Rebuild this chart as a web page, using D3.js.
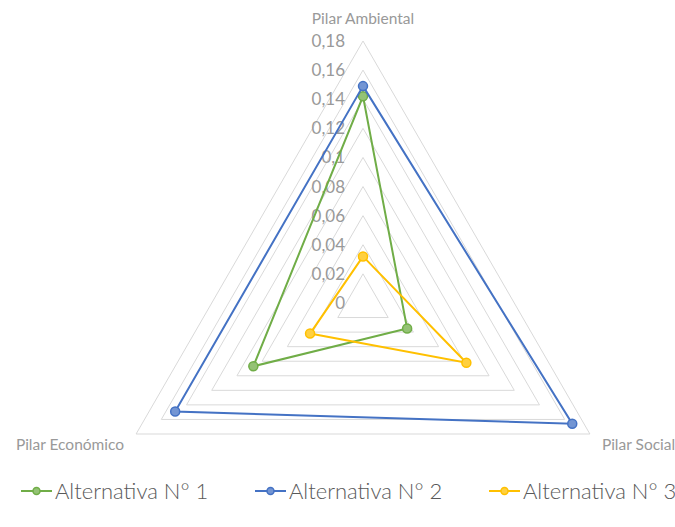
<!DOCTYPE html>
<html>
<head>
<meta charset="utf-8">
<script src="https://cdn.jsdelivr.net/npm/d3@7"></script>
<style>
  body { margin: 0; background: #fff; }
  svg { display: block; font-family: Lato, "Open Sans", sans-serif; }
</style>
</head>
<body>
<div class="chart"></div>
<script>
const width = 675, height = 527;

// categories clockwise from the top
const pillars = ["Pilar Ambiental", "Pilar Social", "Pilar Económico"];
const seriesNames = ["Alternativa N° 1", "Alternativa N° 2", "Alternativa N° 3"];
const alt1 = [0.142, 0.035, 0.087];
const alt2 = [0.149, 0.166, 0.149];
const alt3 = [0.032, 0.082, 0.042];
const tickValues = [0, 0.02, 0.04, 0.06, 0.08, 0.1, 0.12, 0.14, 0.16, 0.18];
const tickLabels = ["0", "0,02", "0,04", "0,06", "0,08", "0,1", "0,12", "0,14", "0,16", "0,18"];
const colors = ["#70ad47", "#4472c4", "#ffc000"];

const cx = 363, cy = 303;

const svg = d3.select(".chart").append("svg")
    .attr("width", width)
    .attr("height", height);

const r = d3.scaleLinear().domain([0, 0.18]).range([0, 262]);
const angle = d3.scaleBand().domain(pillars).range([0, 2 * Math.PI]).align(0).paddingInner(0);

function pt(cat, v) {
  const a = angle(cat) - Math.PI / 2;
  return [cx + r(v) * Math.cos(a), cy + r(v) * Math.sin(a)];
}

const line = d3.line();

// grid triangles
svg.append("g")
  .selectAll("path")
  .data(tickValues.filter(v => v > 0))
  .join("path")
    .attr("d", v => line(pillars.map(p => pt(p, v))) + "Z")
    .attr("fill", "none")
    .attr("stroke", "#d9d9d9")
    .attr("stroke-width", 1);

// tick labels along the top axis
svg.append("g")
  .selectAll("text")
  .data(tickValues)
  .join("text")
    .attr("x", cx - 18)
    .attr("y", v => cy - r(v))
    .attr("dy", "0.35em")
    .attr("text-anchor", "end")
    .attr("fill", "#999")
    .attr("font-size", 17)
    .text((v, i) => tickLabels[i]);

// axis labels
const vTop = pt(pillars[0], 0.18), vRight = pt(pillars[1], 0.18), vLeft = pt(pillars[2], 0.18);
const axisLab = svg.append("g").attr("fill", "#999").attr("font-size", 15.5);
axisLab.append("text").attr("x", vTop[0]).attr("y", vTop[1] - 22).attr("text-anchor", "middle").attr("dy", "0.35em").text(pillars[0]);
axisLab.append("text").attr("x", vRight[0] + 12).attr("y", vRight[1] + 11).attr("text-anchor", "start").attr("dy", "0.35em").text(pillars[1]);
axisLab.append("text").attr("x", vLeft[0] - 12).attr("y", vLeft[1] + 11).attr("text-anchor", "end").attr("dy", "0.35em").text(pillars[2]);

// series
const series = [alt1, alt2, alt3];
series.forEach((vals, i) => {
  const pts = pillars.map((p, j) => pt(p, vals[j]));
  const g = svg.append("g");
  g.append("path")
    .attr("d", line(pts) + "Z")
    .attr("fill", "none")
    .attr("stroke", colors[i])
    .attr("stroke-width", 2);
  g.selectAll("circle")
    .data(pts)
    .join("circle")
      .attr("cx", d => d[0])
      .attr("cy", d => d[1])
      .attr("r", 4.5)
      .attr("fill", d3.interpolateRgb(colors[i], "#fff")(0.25))
      .attr("stroke", colors[i])
      .attr("stroke-width", 1.5);
});

// legend
const legendX = [21, 255, 489];
const legend = svg.append("g").attr("transform", "translate(0,491)");
seriesNames.forEach((name, i) => {
  const g = legend.append("g").attr("transform", `translate(${legendX[i]},0)`);
  g.append("line").attr("x1", 0).attr("x2", 31).attr("stroke", colors[i]).attr("stroke-width", 2);
  g.append("circle").attr("cx", 15.5).attr("r", 3.5)
    .attr("fill", d3.interpolateRgb(colors[i], "#fff")(0.25))
    .attr("stroke", colors[i]).attr("stroke-width", 1.5);
  g.append("text").attr("x", 34).attr("dy", "0.35em")
    .attr("fill", "#595959").attr("font-size", 22).attr("font-weight", 300).text(name);
});
</script>
</body>
</html>
